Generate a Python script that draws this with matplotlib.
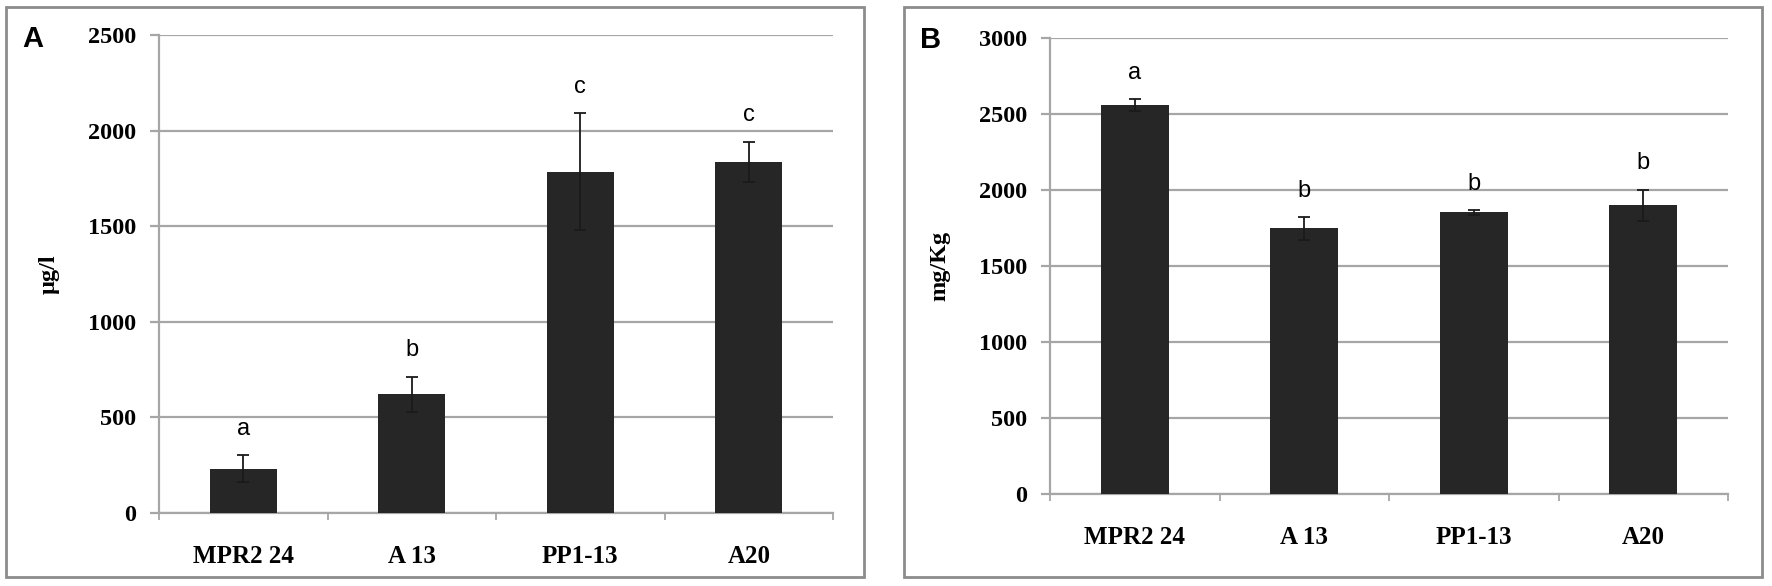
import matplotlib
matplotlib.use('Agg')
import matplotlib.pyplot as plt
from matplotlib.patches import Rectangle
import numpy as np

categories = ['MPR2 24', 'A 13', 'PP1-13', 'A20']

a_means = [232, 620, 1785, 1837]
a_err = [70, 92, 305, 105]
a_letters = ['a', 'b', 'c', 'c']

b_means = [2558, 1747, 1852, 1900]
b_err = [40, 75, 14, 103]
b_letters = ['a', 'b', 'b', 'b']

W, H = 1772, 586
fig = plt.figure(figsize=(W / 100, H / 100), dpi=100)

grid_col = '#a6a6a6'
bar_col = '#262626'
serif = 'Liberation Serif'


def px_rect(x0, y0, x1, y1):
    # pixel box (top-left origin) -> figure fraction [l, b, w, h]
    return [x0 / W, 1 - y1 / H, (x1 - x0) / W, (y1 - y0) / H]


def panel(rect, means, errs, letters, ymax, ylabel):
    ax = fig.add_axes(rect)
    x = np.arange(len(categories))
    ax.bar(x, means, width=0.4, color=bar_col, zorder=3)
    ax.errorbar(x, means, yerr=errs, fmt='none', ecolor='#1a1a1a',
                elinewidth=1.3, capsize=4, capthick=1.3, zorder=4)
    for xi, m, e, lt in zip(x, means, errs, letters):
        ax.annotate(lt, (xi, m + e), xytext=(0, 19), textcoords='offset points',
                    ha='center', va='center', fontsize=17,
                    family='Liberation Sans')
    ax.set_xlim(-0.5, len(categories) - 0.5)
    ax.set_ylim(0, ymax)
    ax.set_yticks(np.arange(0, ymax + 1, 500))
    ax.yaxis.grid(True, color=grid_col, linewidth=1.6, zorder=0)
    ax.set_axisbelow(True)
    for s in ['top', 'right']:
        ax.spines[s].set_visible(False)
    for s in ['left', 'bottom']:
        ax.spines[s].set_color(grid_col)
        ax.spines[s].set_linewidth(1.6)
    ax.tick_params(axis='y', length=6.5, width=1.6, color=grid_col, pad=10)
    ax.set_xticks(x)
    ax.set_xticklabels(categories)
    ax.set_xticks(np.arange(-0.5, len(categories), 1.0), minor=True)
    ax.tick_params(axis='x', which='major', length=0, pad=23)
    ax.tick_params(axis='x', which='minor', length=5, width=1.3, color=grid_col)
    for lab in ax.get_yticklabels():
        lab.set_family(serif)
        lab.set_fontweight('bold')
        lab.set_fontsize(17.5)
    for lab in ax.get_xticklabels():
        lab.set_family(serif)
        lab.set_fontweight('bold')
        lab.set_fontsize(18)
    ax.set_ylabel(ylabel, family=serif, fontweight='bold', fontsize=17.5)
    ax.yaxis.set_label_coords(-0.147, 0.5)
    return ax


panel(px_rect(159, 35, 833, 513), a_means, a_err, a_letters, 2500, 'µg/l')
panel(px_rect(1050, 38, 1728, 494), b_means, b_err, b_letters, 3000, 'mg/Kg')

# outer panel frames
for x0, x1 in [(6, 864), (904, 1762)]:
    fig.add_artist(Rectangle((x0 / W, 1 - 577 / H), (x1 - x0) / W, 570 / H,
                             transform=fig.transFigure, fill=False,
                             edgecolor='#8c8c8c', linewidth=2))

fig.text(22 / W, 1 - 39 / H, 'A', fontsize=21, fontweight='bold',
         family='Liberation Sans', va='center', ha='left')
fig.text(920 / W, 1 - 40 / H, 'B', fontsize=21, fontweight='bold',
         family='Liberation Sans', va='center', ha='left')

fig.savefig('out.png', dpi=100)
